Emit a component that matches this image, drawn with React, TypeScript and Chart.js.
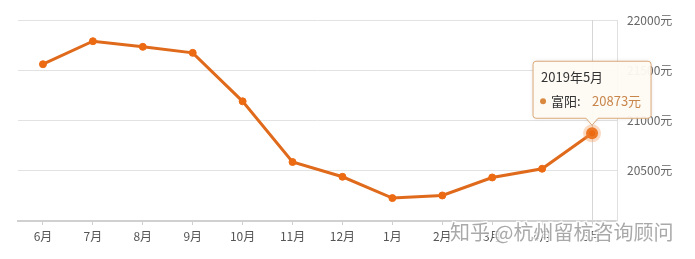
import React, { useEffect, useRef } from 'react';
import { Chart, registerables } from 'chart.js';

Chart.register(...registerables);

const categories = ['6月', '7月', '8月', '9月', '10月', '11月', '12月', '1月', '2月', '3月', '4月', '5月'];
const prices = [21560, 21789, 21733, 21673, 21191, 20587, 20440, 20228, 20254, 20433, 20520, 20873];
const yTicks = [20500, 21000, 21500, 22000];
const yMin = 20000;
const yMax = 22000;
const seriesName = '富阳';
const tooltipTitle = '2019年5月';
const unit = '元';
const watermark = '知乎 @杭州留杭咨询顾问';

const FONT = '"Noto Sans CJK SC", "Noto Sans", sans-serif';
const LINE = '#e06a1b';

const overlay = {
  id: 'overlay',
  beforeDatasetsDraw(chart: any) {
    const { ctx, chartArea } = chart;
    const meta = chart.getDatasetMeta(0);
    const pt = meta.data[prices.length - 1];
    ctx.save();
    ctx.strokeStyle = '#d6d6d6';
    ctx.lineWidth = 1;
    ctx.beginPath();
    ctx.moveTo(Math.round(pt.x) + 0.5, chartArea.top);
    ctx.lineTo(Math.round(pt.x) + 0.5, chartArea.bottom);
    ctx.stroke();
    ctx.restore();
  },
  afterDraw(chart: any) {
    const { ctx } = chart;
    const meta = chart.getDatasetMeta(0);
    const idx = prices.length - 1;
    const pt = meta.data[idx];
    const px = pt.x;
    const py = pt.y;
    const w = 118;
    const h = 57;
    const left = px - w / 2;
    const bottom = py - 15;
    const top = bottom - h;
    const right = left + w;
    const r = 3;
    const cw = 6;
    ctx.save();
    ctx.shadowColor = 'rgba(0,0,0,0.12)';
    ctx.shadowBlur = 4;
    ctx.beginPath();
    ctx.moveTo(left + r, top);
    ctx.lineTo(right - r, top);
    ctx.quadraticCurveTo(right, top, right, top + r);
    ctx.lineTo(right, bottom - r);
    ctx.quadraticCurveTo(right, bottom, right - r, bottom);
    ctx.lineTo(px + cw, bottom);
    ctx.lineTo(px, bottom + 7);
    ctx.lineTo(px - cw, bottom);
    ctx.lineTo(left + r, bottom);
    ctx.quadraticCurveTo(left, bottom, left, bottom - r);
    ctx.lineTo(left, top + r);
    ctx.quadraticCurveTo(left, top, left + r, top);
    ctx.closePath();
    ctx.fillStyle = 'rgba(255,251,244,0.95)';
    ctx.fill();
    ctx.shadowColor = 'transparent';
    ctx.strokeStyle = '#dba97a';
    ctx.lineWidth = 1;
    ctx.stroke();

    ctx.textBaseline = 'middle';
    ctx.textAlign = 'left';
    ctx.font = `13px ${FONT}`;
    ctx.fillStyle = '#333';
    ctx.fillText(tooltipTitle, left + 8, top + 16);
    ctx.fillStyle = '#d98a40';
    ctx.beginPath();
    ctx.arc(left + 10, top + 40, 3, 0, Math.PI * 2);
    ctx.fill();
    ctx.fillStyle = '#333';
    ctx.fillText(seriesName + ':', left + 18, top + 40);
    ctx.fillStyle = '#c8864b';
    ctx.fillText(prices[idx] + unit, left + 59, top + 40);

    // watermark
    ctx.font = `20px ${FONT}`;
    ctx.textBaseline = 'middle';
    ctx.lineWidth = 3;
    ctx.strokeStyle = 'rgba(255,255,255,0.8)';
    ctx.strokeText(watermark, 450, 232);
    ctx.fillStyle = 'rgba(140,140,140,0.75)';
    ctx.fillText(watermark, 450, 232);
    ctx.restore();
  },
};

export default function App() {
  const ref = useRef<HTMLCanvasElement | null>(null);
  useEffect(() => {
    if (!ref.current) return;
    const last = prices.length - 1;
    const chart = new Chart(ref.current, {
      type: 'line',
      data: {
        labels: categories,
        datasets: [
          {
            label: seriesName,
            data: prices,
            borderColor: LINE,
            borderWidth: 3,
            backgroundColor: LINE,
            pointBackgroundColor: '#ec6a12',
            pointBorderColor: (c: any) => (c.dataIndex === last ? 'rgba(240,150,80,0.35)' : '#ec6a12'),
            pointBorderWidth: (c: any) => (c.dataIndex === last ? 6 : 1),
            pointRadius: (c: any) => (c.dataIndex === last ? 6 : 3.5),
            tension: 0,
            fill: false,
          },
        ],
      },
      options: {
        animation: false,
        responsive: false,
        maintainAspectRatio: false,
        layout: { padding: { left: 18, top: 20, right: 0, bottom: 0 } },
        plugins: { legend: { display: false }, tooltip: { enabled: false } },
        events: [],
        scales: {
          x: {
            type: 'category',
            offset: true,
            grid: { drawOnChartArea: false, drawTicks: true, tickLength: 4, color: '#d0d0d0' },
            border: { display: true, color: '#d0d0d0', width: 2 },
            ticks: { color: '#555', font: { size: 12, family: FONT }, padding: 4, maxRotation: 0, autoSkip: false },
            afterFit: (s: any) => { s.height = 38; },
          },
          y: {
            position: 'right',
            min: yMin,
            max: yMax,
            grid: { drawTicks: false, color: '#e2e2e2' },
            border: { display: true, color: '#e0e0e0' },
            ticks: {
              stepSize: 500,
              padding: 10,
              color: '#666',
              font: { size: 12, family: FONT },
              callback: (v: any) => (yTicks.includes(Number(v)) ? v + unit : ''),
            },
            afterFit: (s: any) => { s.width = 78; },
          },
        },
      },
      plugins: [overlay],
    });
    return () => chart.destroy();
  }, []);
  return (
    <div style={{ position: 'fixed', left: 0, top: 0, width: 695, height: 259, background: '#fff' }}>
      <canvas ref={ref} width={695} height={259} style={{ width: 695, height: 259 }} />
    </div>
  );
}
